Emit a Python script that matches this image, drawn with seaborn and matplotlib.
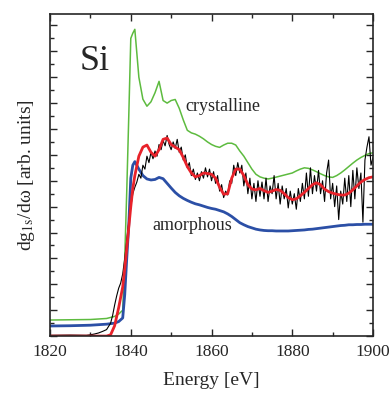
import numpy as np
import pandas as pd
import seaborn as sns
import matplotlib as mpl
import matplotlib.pyplot as plt
from matplotlib.ticker import MultipleLocator

sns.set_style('ticks')
plt.rcParams['font.family'] = ['Liberation Serif', 'DejaVu Serif']
plt.rcParams['mathtext.fontset'] = 'stix'

# energy grids (eV)
e_smooth = [1820, 1825, 1830, 1834, 1835, 1836, 1837, 1838, 1838.5, 1839, 1839.5, 1840, 1840.5,
            1841, 1842, 1843, 1844, 1845, 1846, 1847, 1848, 1849, 1850, 1851, 1852, 1853, 1854,
            1855, 1856, 1857, 1858, 1859, 1860, 1861, 1862, 1863, 1864, 1865, 1866, 1867, 1868,
            1869, 1870, 1871, 1872, 1873, 1874, 1875, 1876, 1877, 1878, 1879, 1880, 1881, 1882,
            1883, 1884, 1885, 1886, 1887, 1888, 1889, 1890, 1891, 1892, 1893, 1894, 1895, 1896,
            1897, 1898, 1899, 1900]

crystalline = [0.62, 0.63, 0.64, 0.68, 0.72, 0.76, 0.85, 1.0, 3.0, 5.6, 8.5, 11.5, 11.7,
               11.85, 10.0, 9.15, 8.88, 9.05, 9.4, 9.84, 9.1, 9.0, 9.1, 9.14, 8.8, 8.35, 7.95,
               7.85, 7.8, 7.72, 7.62, 7.5, 7.4, 7.33, 7.29, 7.38, 7.45, 7.45, 7.38, 7.15, 6.95,
               6.7, 6.45, 6.25, 6.15, 6.1, 6.07, 6.1, 6.14, 6.18, 6.22, 6.26, 6.3, 6.38, 6.45,
               6.5, 6.48, 6.42, 6.35, 6.27, 6.2, 6.15, 6.13, 6.2, 6.3, 6.42, 6.55, 6.68, 6.8,
               6.9, 6.98, 7.05, 7.08]

amorphous = [0.39, 0.40, 0.42, 0.46, 0.48, 0.5, 0.56, 0.7, 1.6, 3.0, 4.3, 6.1, 6.6,
             6.74, 6.45, 6.2, 6.07, 6.03, 6.05, 6.13, 6.08, 5.9, 5.72, 5.55, 5.42, 5.32, 5.24,
             5.17, 5.11, 5.07, 5.02, 4.97, 4.93, 4.9, 4.85, 4.8, 4.72, 4.62, 4.5, 4.38, 4.3,
             4.23, 4.18, 4.13, 4.1, 4.08, 4.07, 4.07, 4.06, 4.06, 4.06, 4.06, 4.07, 4.08, 4.09,
             4.1, 4.12, 4.13, 4.15, 4.17, 4.19, 4.21, 4.23, 4.25, 4.27, 4.28, 4.3, 4.3, 4.31,
             4.31, 4.32, 4.32, 4.32]

fit = [0.0, 0.0, 0.0, 0.0, 0.05, 0.4, 1.1, 1.9, 2.6, 3.4, 4.2, 5.0, 5.7,
       6.2, 6.95, 7.3, 7.38, 7.1, 6.95, 7.2, 7.6, 7.65, 7.4, 7.3, 7.2, 6.9, 6.55,
       6.3, 6.15, 6.2, 6.3, 6.28, 6.25, 6.1, 5.75, 5.48, 5.5, 6.1, 6.45, 6.45, 6.2,
       5.85, 5.68, 5.65, 5.7, 5.62, 5.55, 5.6, 5.66, 5.63, 5.5, 5.35, 5.27, 5.3, 5.42,
       5.55, 5.7, 5.85, 5.92, 5.85, 5.68, 5.58, 5.52, 5.48, 5.45, 5.45, 5.52, 5.65, 5.8,
       5.95, 6.05, 6.12, 6.15]

# measured spectrum
e_exp = [1820, 1825, 1829, 1830, 1831, 1832, 1833, 1834, 1835, 1835.5, 1836, 1836.5, 1837,
         1837.5, 1838, 1838.5, 1839, 1839.5, 1840, 1840.5, 1841, 1841.5, 1842, 1842.5, 1843,
         1843.5, 1844, 1844.5, 1845, 1845.5, 1846, 1846.5, 1847, 1847.5, 1848, 1848.5, 1849,
         1849.5, 1850, 1850.5, 1851, 1851.5, 1852, 1852.5, 1853, 1853.5, 1854, 1854.5, 1855,
         1855.5, 1856, 1856.5, 1857, 1857.5, 1858, 1858.5, 1859, 1859.5, 1860, 1860.5, 1861,
         1861.5, 1862, 1862.5, 1863, 1863.5, 1864, 1864.5, 1865, 1865.5, 1866, 1866.5, 1867,
         1867.5, 1868, 1868.5, 1869, 1869.5, 1870, 1870.5, 1871, 1871.5, 1872, 1872.5, 1873,
         1873.5, 1874, 1874.5, 1875, 1875.5, 1876, 1876.5, 1877, 1877.5, 1878, 1878.5, 1879,
         1879.5, 1880, 1880.5, 1881, 1881.5, 1882, 1882.5, 1883, 1883.5, 1884, 1884.5, 1885,
         1885.5, 1886, 1886.5, 1887, 1887.5, 1888, 1888.5, 1889, 1889.5, 1890, 1890.5, 1891,
         1891.5, 1892, 1892.5, 1893, 1893.5, 1894, 1894.5, 1895, 1895.5, 1896, 1896.5, 1897,
         1897.5, 1898, 1898.5, 1899, 1899.5, 1900]
measured = [0.03, 0.04, 0.03, 0.05, 0.08, 0.12, 0.18, 0.25, 0.5, 0.8, 1.2, 1.55, 1.85,
            2.05, 2.4, 3.0, 3.7, 4.4, 5.0, 5.5, 5.75, 5.95, 6.25, 6.1, 6.6,
            6.45, 6.95, 6.7, 7.1, 6.85, 7.15, 6.95, 7.4, 7.2, 7.55, 7.35, 7.75,
            7.4, 7.2, 7.5, 7.25, 7.6, 7.1, 7.3, 6.8, 7.0, 6.5, 6.7, 6.2,
            6.45, 6.05, 6.3, 6.0, 6.35, 6.1, 6.5, 6.15, 6.45, 6.0, 6.35, 5.9,
            6.2, 5.6, 5.85, 5.35, 5.6, 5.45, 6.0, 5.9, 6.6, 6.2, 6.7, 6.3,
            6.6, 5.8, 6.3, 5.5, 6.1, 5.3, 5.9, 5.2, 6.0, 5.4, 5.95, 5.3,
            6.1, 5.2, 5.8, 5.5, 6.2, 5.3, 5.9, 5.1, 5.8, 5.3, 5.7, 4.95,
            5.6, 5.1, 5.5, 4.9, 5.7, 5.2, 5.9, 5.3, 6.3, 5.4, 6.5, 5.5,
            6.2, 5.6, 6.4, 5.5, 6.0, 5.2, 6.3, 6.8, 5.3, 5.9, 5.0, 5.8,
            4.5, 5.6, 5.1, 6.1, 5.2, 6.2, 5.0, 6.4, 5.3, 6.5, 5.7, 6.3,
            4.4, 6.8, 7.3, 7.7, 6.6, 6.9]

fig = plt.figure(figsize=(3.91, 3.94), dpi=100)
ax = fig.add_axes([0.128, 0.147, 0.826, 0.818])

sns.lineplot(x=e_smooth, y=crystalline, ax=ax, color='#5dbb3f', lw=1.1, sort=False, estimator=None)
sns.lineplot(x=e_smooth, y=amorphous, ax=ax, color='#2b4fa6', lw=2.0, sort=False, estimator=None)
sns.lineplot(x=e_exp, y=measured, ax=ax, color='black', lw=0.8, sort=False, estimator=None)
sns.lineplot(x=e_smooth, y=fit, ax=ax, color='#e8222a', lw=2.0, sort=False, estimator=None)

ax.set_xlim(1820, 1900)
ax.set_ylim(0, 12.45)
ax.xaxis.set_major_locator(MultipleLocator(20))
ax.xaxis.set_minor_locator(MultipleLocator(10))
ax.yaxis.set_major_locator(MultipleLocator(1))
ax.yaxis.set_minor_locator(MultipleLocator(0.5))
ax.tick_params(which='both', direction='in', top=True, right=True, width=1.0)
ax.tick_params(which='major', length=5)
ax.tick_params(which='minor', length=3)
ax.tick_params(axis='x', labelsize=12.5, pad=6)
ax.set_yticklabels([])
for s in ax.spines.values():
    s.set_linewidth(1.2)

ax.set_xlabel('Energy [eV]', fontsize=14, labelpad=8)
ax.set_ylabel(r'dg$_{\rm 1s}$/dω [arb. units]', fontsize=14, labelpad=6)

ax.text(1827.4, 10.29, 'Si', fontsize=26, ha='left', va='baseline')
ax.text(1853.4, 8.68, 'crystalline', fontsize=13, ha='left', va='baseline')
ax.text(1845.3, 4.1, 'amorphous', fontsize=13, ha='left', va='baseline')

fig.savefig('out.png', dpi=100)
